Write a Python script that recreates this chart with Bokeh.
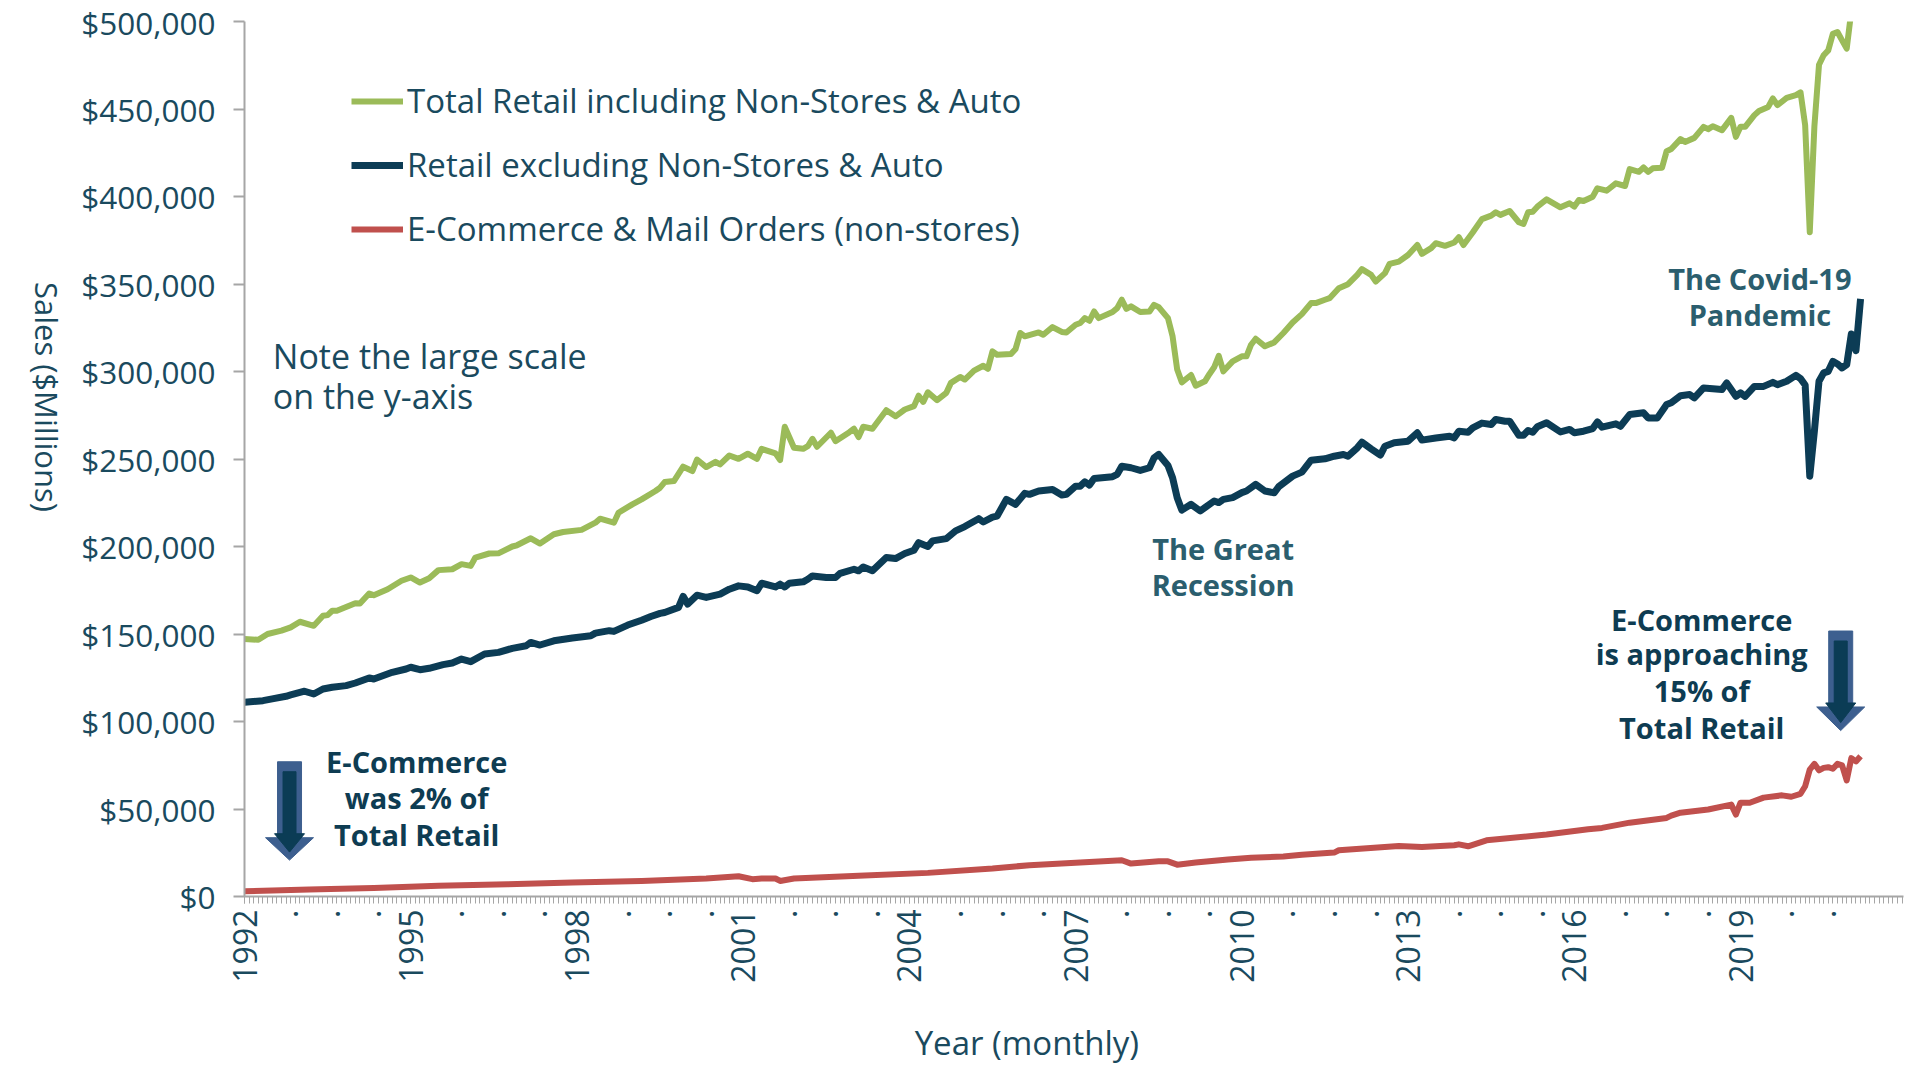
import math
from bokeh.plotting import figure
from bokeh.models import (Range1d, FixedTicker, NumeralTickFormatter, Legend,
                          LegendItem, Label, LinearAxis)
from bokeh.embed import file_html
from bokeh.resources import INLINE

# ---------------- data (month index: 0 = Jan 1992), values in $ millions ----
total_months = [0, 3, 5, 8, 10, 12, 15, 17, 18, 19, 20, 24, 25, 27, 28, 31, 34, 36, 38, 40,
                42, 45, 47, 49, 50, 53, 55, 58, 59, 62, 64, 67, 69, 73, 76, 77, 80, 81, 84, 86,
                89, 90, 91, 93, 95, 97, 98, 100, 102, 103, 105, 107, 109, 111, 112, 115, 116, 117, 119, 121,
                122, 123, 124, 127, 128, 131, 132, 133, 134, 136, 139, 141, 143, 145, 146, 147, 148, 150, 152, 153,
                155, 156, 158, 160, 161, 162, 163, 166, 167, 168, 169, 172, 173, 175, 177, 178, 180, 181, 182, 183,
                184, 185, 188, 189, 190, 191, 192, 194, 196, 197, 198, 200, 201, 202, 203, 205, 206, 208, 209, 210,
                211, 212, 214, 216, 217, 218, 219, 221, 223, 225, 227, 229, 231, 232, 234, 235, 237, 239, 241, 242,
                244, 245, 247, 248, 250, 252, 254, 255, 257, 258, 260, 262, 263, 264, 266, 268, 270, 271, 272, 274,
                276, 277, 278, 279, 280, 282, 285, 287, 288, 289, 290, 292, 293, 295, 297, 299, 300, 302, 303, 304,
                305, 307, 308, 309, 311, 312, 314, 316, 317, 318, 320, 322, 323, 324, 325, 327, 328, 330, 331, 332,
                334, 336, 337, 338, 339, 340, 341, 342, 343, 344, 345, 346, 347, 348, 349, 350]
total_sales = [147100, 146700, 150000, 151900, 153800, 157000, 154700, 160400, 160800, 163300,
               163300, 167600, 167400, 173100, 172200, 175600, 180400, 182300, 179400, 181900,
               186500, 187000, 189900, 188900, 193700, 196000, 196100, 200000, 200700, 204700,
               201700, 207000, 208300, 209500, 213600, 215900, 213600, 219300, 224100, 226900,
               231700, 233600, 236800, 237400, 245600, 243100, 249700, 245400, 248400, 246900,
               252000, 250100, 253000, 250100, 255800, 253200, 249400, 268400, 256400, 255800,
               257300, 261500, 257000, 265000, 260200, 265300, 267300, 262500, 268400, 267300,
               277900, 274400, 278300, 280200, 286200, 282600, 288100, 283600, 287800, 293500,
               296900, 295400, 300500, 303300, 301500, 311500, 309600, 310000, 312900, 322000,
               320100, 322300, 321000, 325400, 322600, 322300, 326700, 327700, 330500, 329000,
               334300, 330500, 334000, 336200, 341000, 335800, 337200, 334000, 334300, 338100,
               336800, 330500, 320100, 301100, 293800, 298000, 291900, 294400, 298600, 302400,
               309000, 300100, 305800, 308700, 308700, 315300, 318700, 314400, 316600, 322000,
               328000, 332800, 339100, 339100, 341000, 341900, 347600, 349900, 355200, 358500,
               355200, 351400, 356200, 361500, 362800, 366600, 372300, 367200, 370500, 373300,
               371800, 373700, 376700, 372300, 379400, 387100, 389100, 391000, 389500, 391700,
               385300, 384300, 391000, 391300, 394200, 398400, 393800, 396100, 394200, 398000,
               397400, 399900, 404700, 403300, 407500, 406000, 415700, 414100, 416600, 414100,
               416100, 416400, 425900, 427100, 432800, 431200, 433500, 439800, 438500, 440200,
               437900, 444900, 434100, 439800, 439800, 446500, 448900, 451200, 456000, 452200,
               456300, 457900, 459500, 440800, 379600, 440000, 475300, 480700, 483500, 493000,
               494000, 489200, 484500, 506000, 503000, 540000]

core_months = [0, 4, 6, 9, 10, 13, 15, 17, 19, 22, 24, 27, 28, 32, 35, 36, 38, 40, 43, 45,
               47, 49, 52, 55, 58, 61, 62, 64, 67, 71, 75, 76, 79, 80, 83, 86, 88, 90, 91, 94,
               95, 96, 98, 100, 103, 105, 107, 109, 111, 112, 115, 116, 117, 118, 121, 122, 123, 126, 128, 129,
               132, 133, 134, 136, 139, 141, 143, 145, 146, 148, 149, 152, 154, 156, 159, 160, 162, 163, 165, 167,
               169, 170, 172, 175, 177, 178, 180, 181, 182, 183, 184, 188, 189, 190, 192, 194, 196, 197, 198, 200,
               201, 202, 203, 205, 207, 208, 210, 211, 212, 214, 216, 217, 219, 221, 223, 224, 227, 229, 231, 234,
               236, 238, 239, 241, 242, 244, 246, 247, 249, 252, 254, 255, 258, 261, 262, 263, 265, 266, 268, 270,
               271, 273, 274, 276, 277, 278, 279, 280, 282, 285, 287, 288, 290, 292, 293, 294, 297, 298, 300, 303,
               304, 306, 308, 309, 311, 313, 314, 316, 318, 320, 321, 323, 324, 325, 327, 329, 331, 332, 334, 336,
               337, 338, 339, 340, 341, 342, 343, 344, 345, 346, 347, 348, 349, 350]
core_sales = [111000, 111900, 112900, 114400, 115200, 117300, 115700, 118600, 119600, 120500,
              122000, 124900, 124300, 128100, 130000, 131000, 129600, 130400, 132500, 133400,
              135700, 134200, 138600, 139500, 141800, 143300, 145200, 143700, 146100, 147700,
              149000, 150500, 151900, 151500, 155100, 157900, 160000, 161800, 162300, 165200,
              171500, 167100, 172200, 170900, 172800, 175600, 177500, 176900, 174700, 179000,
              176900, 178500, 176900, 179000, 179800, 181300, 183200, 182300, 182300, 184700,
              187000, 186100, 188300, 186100, 193700, 193100, 196000, 197900, 202200, 200000,
              203200, 204500, 208900, 211400, 215900, 214000, 216800, 217400, 226900, 224100,
              230400, 229800, 231700, 232600, 229400, 229800, 234500, 234500, 237000, 235100,
              238900, 239900, 241200, 245900, 245000, 243500, 245000, 250700, 252600, 246300,
              239300, 227900, 220800, 224100, 220300, 222200, 226000, 225100, 226900, 227900,
              230800, 231700, 235500, 231700, 230700, 234200, 240200, 242500, 249300, 250100,
              251600, 252600, 251600, 256400, 259600, 255800, 252200, 257300, 259300, 260200,
              265000, 260800, 262000, 263000, 262100, 265900, 265300, 267800, 270500, 269700,
              272600, 271600, 271600, 263600, 263600, 266300, 265300, 268400, 270700, 265500,
              266900, 265000, 265900, 267400, 271200, 268200, 270100, 268700, 275400, 276400,
              273500, 273500, 281100, 282100, 286200, 286800, 284900, 290600, 290200, 289700,
              293500, 285800, 287800, 285800, 291500, 291500, 293800, 292500, 294400, 297800,
              295900, 292300, 240200, 265900, 294400, 299200, 300100, 305800, 304300, 302000,
              303900, 321400, 311900, 341500]

ecom_months = [0, 14, 28, 42, 57, 71, 86, 100, 107, 110, 112, 115, 116, 119, 133, 148, 162, 170, 177, 184,
               190, 192, 198, 200, 202, 206, 213, 218, 225, 229, 236, 237, 250, 255, 262, 263, 265, 269, 282, 291,
               294, 300, 308, 309, 311, 317, 322, 323, 324, 326, 329, 333, 335, 337, 338, 339, 340, 341, 342, 343,
               344, 345, 346, 347, 348, 349, 350]
ecom_sales = [3000, 4000, 4900, 6100, 7000, 8000, 8900, 10300, 11600, 9900,
              10300, 10300, 8900, 10300, 11800, 13500, 16000, 17900, 18800, 19800,
              20700, 18800, 20100, 20100, 18200, 19400, 21100, 22100, 22900, 23900,
              25100, 26400, 28900, 28300, 29300, 29800, 28700, 32100, 35400, 38400,
              39200, 42200, 44900, 46200, 47900, 49700, 52500, 46800, 53600, 53600,
              56500, 57800, 57000, 58700, 63000, 72500, 75800, 72100, 73500, 73900,
              73000, 75800, 74900, 66300, 79100, 77200, 80200]

year_labels = ["1992", "1995", "1998", "2001", "2004", "2007", "2010", "2013", "2016", "2019"]
label_step_months = 9
y_ticks = [0, 50000, 100000, 150000, 200000, 250000, 300000, 350000, 400000, 450000, 500000]

series_names = ["Total Retail including Non-Stores & Auto",
                "Retail excluding Non-Stores & Auto",
                "E-Commerce & Mail Orders (non-stores)"]

# ---------------- styles ----------------
FONT = "Open Sans"
TXT = "#1A4A5E"
GREEN = "#9BBB59"
NAVY = "#0C3C55"
RED = "#C0504D"
AX = "#A6A6A6"
NBSP = "\u00a0"

X_MAX = 359.3
Y_MAX = 500000
FRAME_W, FRAME_H = 1659, 877

p = figure(width=1910, height=1067, output_backend="svg", toolbar_location=None,
           x_range=Range1d(0, X_MAX), y_range=Range1d(0, Y_MAX),
           min_border_left=244, min_border_right=7, min_border_top=21, min_border_bottom=169)
p.outline_line_color = None
p.xgrid.visible = False
p.ygrid.visible = False
p.background_fill_color = "white"

r_total = p.line(total_months, total_sales, line_color=GREEN, line_width=6, line_join="round")
r_core = p.line(core_months, core_sales, line_color=NAVY, line_width=7, line_join="round")
r_ecom = p.line(ecom_months, ecom_sales, line_color=RED, line_width=6, line_join="round")

# ---------------- axes ----------------
tick_positions = list(range(0, 343, label_step_months))
overrides = {}
for t in tick_positions:
    overrides[t] = "."
for i, lab in enumerate(year_labels):
    overrides[i * 36] = lab

xa = p.xaxis[0]
xa.ticker = FixedTicker(ticks=tick_positions, minor_ticks=list(range(0, 360)))
xa.major_label_overrides = overrides
xa.major_label_orientation = math.pi / 2
xa.major_label_text_font = FONT
xa.major_label_text_font_size = "32px"
xa.major_label_text_color = TXT
xa.major_label_standoff = 6
xa.axis_line_color = AX
xa.axis_line_width = 2
xa.major_tick_line_color = AX
xa.minor_tick_line_color = AX
xa.major_tick_in = 0
xa.major_tick_out = 7
xa.minor_tick_in = 0
xa.minor_tick_out = 7
xa.axis_label = "Year (monthly)" + NBSP * 11
xa.axis_label_text_font = FONT
xa.axis_label_text_font_size = "33px"
xa.axis_label_text_font_style = "normal"
xa.axis_label_text_color = TXT
xa.axis_label_standoff = 34

ya = p.yaxis[0]
ya.ticker = FixedTicker(ticks=y_ticks, minor_ticks=[])
ya.formatter = NumeralTickFormatter(format="$0,0")
ya.major_label_text_font = FONT
ya.major_label_text_font_size = "31.5px"
ya.major_label_text_color = TXT
ya.major_label_standoff = 18
ya.axis_line_color = AX
ya.axis_line_width = 2
ya.major_tick_line_color = AX
ya.major_tick_line_width = 2
ya.major_tick_in = 0
ya.major_tick_out = 11

# y-axis title: an outer label-only axis so the text reads top-to-bottom
# (the rotated label ends at its tick, so the tick sits at the text's lower end)
y_title_at = 219800
y_title_axis = LinearAxis(ticker=FixedTicker(ticks=[y_title_at], minor_ticks=[]),
                          major_label_overrides={y_title_at: "Sales ($Millions)"},
                          major_label_orientation=-math.pi / 2,
                          major_label_standoff=26,
                          major_label_text_font=FONT, major_label_text_font_size="31px",
                          major_label_text_color=TXT,
                          axis_line_color=None, major_tick_line_color=None,
                          minor_tick_line_color=None)
p.add_layout(y_title_axis, "left")

# ---------------- legend ----------------
legend = Legend(items=[LegendItem(label=series_names[0], renderers=[r_total]),
                       LegendItem(label=series_names[1], renderers=[r_core]),
                       LegendItem(label=series_names[2], renderers=[r_ecom])],
                location=(107, 645), orientation="vertical", glyph_width=52, glyph_height=30,
                label_height=30, label_standoff=4, spacing=19, padding=0, margin=0,
                border_line_color=None, background_fill_alpha=0,
                label_text_font=FONT, label_text_font_size="33px", label_text_color=TXT)
p.add_layout(legend)

# ---------------- arrows ----------------
mpp = X_MAX / FRAME_W      # months per pixel
vpp = Y_MAX / FRAME_H      # dollars per pixel


def block_arrow(xc, top, head, tip, shaft_half_px, head_half_px):
    sw = shaft_half_px * mpp
    hw = head_half_px * mpp
    xs = [xc - sw, xc + sw, xc + sw, xc + hw, xc, xc - hw, xc - sw]
    ys = [top, top, head, head, tip, head, head]
    return xs, ys


arrow_specs = [  # center month, top, head base, tip (values)
    (9.75, 77000, 33600, 20800),
    (345.7, 151700, 108300, 94800),
]
for xc, top, head, tip in arrow_specs:
    xs, ys = block_arrow(xc, top, head, tip, 12, 24)
    p.patch(xs, ys, fill_color="#3D5F8F", line_color="#3D5F8F", line_width=1)
    xs2, ys2 = block_arrow(xc, top - 10 * vpp, head + 4 * vpp, tip + 8 * vpp, 6.5, 15)
    p.patch(xs2, ys2, fill_color="#0B3C55", line_color="#0B3C55", line_width=1)

# ---------------- text annotations ----------------
TEXT_LIFT = 10 * vpp   # raise labels by 10 px


def add_text(x, y, text, size, color, bold=False, align="center"):
    p.add_layout(Label(x=x, y=y + TEXT_LIFT, text=text, text_font=FONT, text_font_size=size,
                       text_color=color, text_font_style="bold" if bold else "normal",
                       text_align=align, text_baseline="alphabetic"))


add_text(6.13, 302900, "Note the large scale", "34px", TXT, align="left")
add_text(6.13, 280500, "on the y-axis", "34px", TXT, align="left")

TEAL = "#2B5E6E"
DARK = "#0E3C52"
add_text(211.95, 192900, "The Great", "29px", TEAL, bold=True)
add_text(211.95, 172300, "Recession", "29px", TEAL, bold=True)
add_text(328.2, 347300, "The Covid-19", "29px", TEAL, bold=True)
add_text(328.2, 326700, "Pandemic", "29px", TEAL, bold=True)

for txt, yv in zip(["E-Commerce", "is approaching", "15% of", "Total Retail"],
                   [152400, 132900, 111900, 91100]):
    add_text(315.6, yv, txt, "29px", DARK, bold=True)
for txt, yv in zip(["E-Commerce", "was 2% of", "Total Retail"], [71300, 50700, 30000]):
    add_text(37.3, yv, txt, "29px", DARK, bold=True)

open("out.html", "w").write(file_html(p, INLINE))
